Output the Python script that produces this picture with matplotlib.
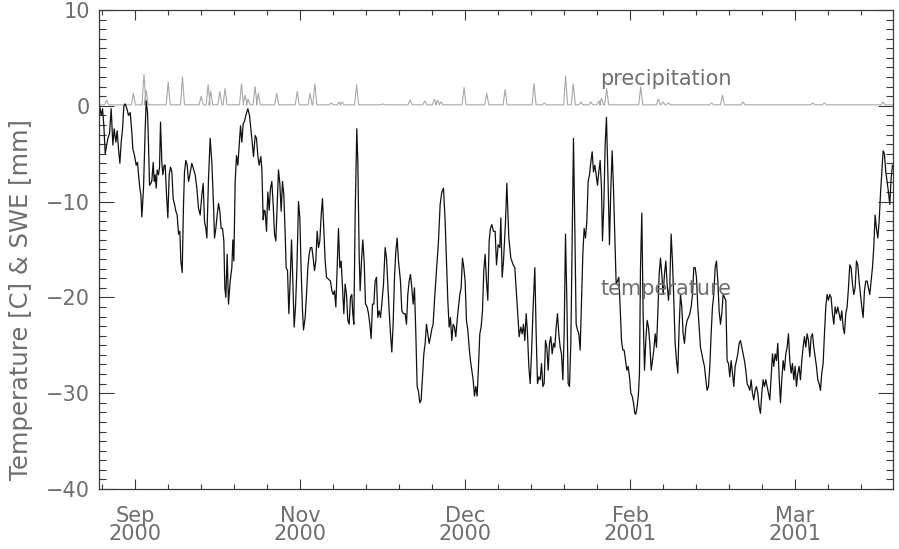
import matplotlib
matplotlib.use("Agg")
import matplotlib.pyplot as plt
from matplotlib.ticker import FixedLocator, MultipleLocator

# days since start of record (~4 Sep 2000) and air temperature [C]
temp_day = [
    0.27, 0.73, 1.09, 1.45, 1.82, 2.55, 3.0, 3.45, 3.91, 4.27, 4.73, 5.09, 5.45, 5.82, 6.18, 6.55,
    6.91, 7.27, 7.73, 8.18, 8.64, 9.09, 9.36, 9.82, 10.27, 10.64, 10.91, 11.27, 11.55, 11.82, 12.27,
    12.73, 13.0, 13.36, 13.64, 13.91, 14.27, 14.55, 14.91, 15.18, 15.45, 15.73, 16.0, 16.36, 16.64,
    16.91, 17.27, 17.55, 17.91, 18.18, 18.55, 18.91, 19.27, 19.64, 20.0, 20.36, 20.73, 21.09, 21.45,
    21.82, 22.18, 22.45, 22.82, 23.18, 23.45, 23.82, 24.18, 24.55, 24.91, 25.45, 25.91, 26.36, 26.82,
    27.27, 27.73, 28.18, 28.55, 28.91, 29.27, 29.55, 30.0, 30.45, 30.91, 31.36, 31.64, 32.0, 32.36,
    32.73, 33.09, 33.45, 33.82, 34.18, 34.45, 34.73, 35.09, 35.45, 35.91, 36.36, 36.64, 36.91, 37.27,
    37.64, 38.0, 38.36, 38.73, 39.09, 39.45, 39.82, 40.18, 40.73, 41.18, 41.55, 41.91, 42.27, 42.73,
    43.09, 43.45, 43.82, 44.27, 44.55, 44.91, 45.18, 45.45, 45.82, 46.18, 46.55, 46.91, 47.27, 47.64,
    48.0, 48.36, 48.73, 49.09, 49.45, 49.82, 50.18, 50.55, 50.91, 51.18, 51.55, 51.91, 52.27, 52.64,
    53.0, 53.36, 53.73, 54.09, 54.55, 54.91, 55.27, 55.64, 55.91, 56.36, 56.73, 57.09, 57.45, 57.82,
    58.18, 58.55, 58.91, 59.27, 59.64, 60.0, 60.36, 60.73, 61.09, 61.45, 61.82, 62.18, 62.73, 63.27,
    63.64, 64.0, 64.36, 64.73, 65.09, 65.45, 65.82, 66.18, 66.55, 66.91, 67.27, 67.64, 68.0, 68.36,
    68.73, 69.09, 69.36, 69.64, 70.0, 70.45, 70.73, 71.09, 71.36, 71.73, 72.09, 72.45, 72.82, 73.27,
    73.64, 74.0, 74.36, 74.73, 75.09, 75.45, 75.82, 76.18, 76.55, 76.91, 77.27, 77.73, 78.18, 78.55,
    78.91, 79.27, 79.64, 80.0, 80.36, 80.73, 81.09, 81.45, 81.82, 82.36, 82.73, 83.18, 83.64, 84.0,
    84.36, 84.73, 85.09, 85.45, 85.82, 86.18, 86.55, 86.91, 87.27, 87.64, 88.0, 88.36, 88.73, 89.09,
    89.45, 89.82, 90.18, 90.55, 90.91, 91.27, 91.64, 92.0, 92.36, 92.73, 93.18, 93.64, 94.09, 94.55,
    94.91, 95.27, 95.64, 96.0, 96.36, 96.73, 97.09, 97.45, 97.82, 98.18, 98.55, 98.91, 99.27, 99.64,
    100.0, 100.36, 100.73, 101.09, 101.45, 101.82, 102.18, 102.55, 102.91, 103.27, 103.64, 104.0,
    104.36, 104.73, 105.09, 105.45, 105.82, 106.18, 106.55, 106.91, 107.27, 107.73, 108.18,
    108.55, 109.0, 109.46, 109.74, 110.1, 110.46, 111.01, 111.37, 111.92, 112.46, 113.1, 113.55,
    114.01, 114.46, 114.74, 115.19, 115.55, 115.92, 116.28, 116.65, 117.01, 117.37, 117.74, 118.1,
    118.55, 119.01, 119.37, 119.74, 120.1, 120.46, 120.83, 121.19, 121.55, 121.92, 122.28, 122.65,
    123.01, 123.37, 123.74, 124.1, 124.46, 124.83, 125.19, 125.55, 125.92, 126.28, 126.65, 127.01,
    127.37, 127.74, 128.1, 128.46, 128.83, 129.19, 129.55, 129.92, 130.28, 130.65, 131.01, 131.37,
    131.74, 132.1, 132.46, 132.83, 133.19, 133.55, 133.92, 134.28, 134.65, 135.01, 135.37, 135.74,
    136.1, 136.46, 136.83, 137.19, 137.46, 137.83, 138.19, 138.55, 139.01, 139.37, 139.74, 140.1,
    140.46, 140.83, 141.19, 141.55, 141.92, 142.28, 142.65, 143.01, 143.37, 143.74, 144.1, 144.46,
    144.83, 145.19, 145.55, 145.92, 146.28, 146.55, 146.92, 147.28, 147.55, 147.83, 148.19, 148.55,
    148.92, 149.28, 149.65, 150.01, 150.37, 150.74, 151.1, 151.46, 151.83, 152.19, 152.55, 152.92,
    153.28, 153.65, 154.01, 154.37, 154.74, 155.1, 155.46, 155.83, 156.19, 156.55, 156.92, 157.28,
    157.65, 158.01, 158.37, 158.74, 159.1, 159.46, 159.83, 160.19, 160.55, 160.92, 161.28, 161.65,
    162.01, 162.37, 162.74, 163.1, 163.46, 163.83, 164.19, 164.55, 164.92, 165.28, 165.65, 166.01,
    166.37, 166.74, 167.1, 167.46, 167.83, 168.19, 168.55, 168.92, 169.28, 169.65, 170.01, 170.37,
    170.74, 171.1, 171.46, 171.83, 172.19, 172.55, 172.92, 173.28, 173.65, 174.01, 174.37, 174.74,
    175.1, 175.46, 175.83, 176.19, 176.55, 176.92, 177.28, 177.65, 178.01, 178.37, 178.74, 179.1,
    179.46, 179.83, 180.19, 180.55, 180.92, 181.28, 181.65, 182.01, 182.37, 182.74, 183.1, 183.46,
    183.83, 184.19, 184.55, 184.92, 185.28, 185.65, 186.01, 186.37, 186.74, 187.1, 187.46, 187.83,
    188.19, 188.55, 188.92, 189.28, 189.65, 190.01, 190.37, 190.74, 191.1, 191.46, 191.83, 192.19,
    192.55, 192.92, 193.28, 193.65, 194.01, 194.37, 194.74, 195.1, 195.46, 195.83, 196.19, 196.55,
    196.92, 197.28, 197.65, 198.01, 198.37, 198.74, 199.1, 199.46, 199.83, 200.19, 200.56, 200.92,
    201.28, 201.65, 202.01, 202.37, 202.74, 203.1, 203.46, 203.83, 204.19, 204.56, 204.92, 205.28,
    205.65, 206.01, 206.37, 206.74, 207.1, 207.46, 207.83, 208.19, 208.56, 208.92, 209.28, 209.65,
    210.01, 210.37, 210.74, 211.1, 211.46, 211.83, 212.19, 212.56, 212.92, 213.28, 213.65, 214.01,
    214.37, 214.74, 215.1, 215.46, 215.83, 216.19, 216.56,
]
temp_c = [
    0.0, -1.0, -0.3, -2.1, -5.0, -3.4, -2.9, -0.3, -4.1, -2.4, -3.8, -2.6, -4.5, -6.0, -3.8, -2.4,
    0.0, 0.2, -0.3, -1.0, -0.7, -2.8, -4.5, -5.2, -6.2, -5.9, -7.2, -8.6, -9.3, -11.6, -8.6,
    -2.4, 0.5, -0.7, -4.1, -8.3, -8.1, -7.8, -5.9, -7.9, -7.2, -8.6, -6.7, -7.2, -6.4,
    -1.7, -5.9, -7.2, -6.2, -6.2, -9.3, -11.7, -7.2, -6.4, -6.9, -9.7, -10.3, -11.0, -11.4,
    -13.4, -13.1, -16.2, -17.4, -10.3, -6.9, -5.7, -6.2, -7.9, -7.2, -6.0, -6.6, -7.2, -8.6,
    -10.7, -11.4, -9.3, -8.1, -12.1, -12.8, -13.8, -7.6, -3.4, -5.9, -10.3, -13.8, -12.8, -11.4,
    -10.2, -11.0, -12.8, -12.8, -14.1, -19.0, -20.0, -15.5, -20.7, -18.3, -16.9, -14.0, -16.2, -7.9,
    -5.2, -6.2, -4.1, -2.1, -3.8, -1.9, -1.6, -1.0, -0.3, -1.0, -2.4, -3.8, -5.3, -3.1,
    -3.4, -5.2, -6.2, -5.3, -6.6, -11.9, -10.9, -11.0, -13.1, -9.0, -10.9, -8.6, -7.9, -10.3,
    -13.4, -14.1, -10.3, -6.7, -8.1, -11.0, -7.9, -9.3, -13.4, -16.9, -17.2, -21.7, -18.3, -14.0,
    -18.3, -23.1, -21.0, -17.2, -10.0, -11.7, -17.2, -21.4, -23.4, -22.1, -19.7, -16.9, -15.5, -14.8,
    -14.8, -15.9, -17.2, -16.2, -13.1, -14.8, -14.1, -11.4, -9.7, -12.8, -16.2, -17.9, -18.1, -18.3,
    -19.3, -19.7, -19.3, -21.0, -16.9, -12.8, -16.9, -16.2, -19.0, -21.7, -18.6, -19.7, -22.4, -22.8,
    -20.0, -19.7, -21.7, -22.8, -11.4, -2.4, -5.9, -15.5, -19.3, -16.2, -14.0, -16.2, -20.7, -21.0,
    -21.7, -22.8, -24.3, -20.7, -20.7, -18.3, -17.9, -22.1, -21.4, -22.1, -20.7, -18.6, -14.8, -15.9,
    -18.6, -21.4, -23.8, -25.7, -22.8, -17.9, -15.2, -13.8, -16.2, -18.3, -21.4, -21.7, -21.7, -22.8,
    -19.7, -18.3, -17.6, -19.0, -20.7, -19.0, -23.8, -29.3, -29.8, -31.0, -30.7, -28.3, -25.9, -24.8,
    -22.8, -23.8, -24.8, -24.1, -23.3, -22.8, -20.3, -18.3, -16.2, -14.1, -10.3, -9.0, -8.6, -12.1,
    -16.2, -20.3, -23.1, -22.1, -24.5, -22.8, -23.1, -24.1, -22.4, -21.0, -19.7, -19.0, -15.9, -16.9,
    -18.3, -22.4, -23.4, -25.2, -26.6, -27.6, -28.6, -30.3, -29.3, -30.3, -27.2, -23.8,
    -23.1, -21.4, -17.2, -15.5, -18.3, -20.3, -14.1, -12.8, -12.4, -13.1, -13.1,
    -16.6, -14.5, -14.8, -11.7, -17.9, -16.2, -12.1, -8.1, -13.8, -15.9, -16.6, -16.9,
    -19.7, -22.4, -24.1, -23.1, -23.8, -22.8, -24.5, -21.7, -23.8, -27.2, -29.0, -25.9,
    -21.0, -16.9, -23.8, -29.0, -28.3, -28.6, -26.9, -29.3, -29.0, -24.5, -25.2, -27.6,
    -24.8, -24.1, -25.9, -24.8, -25.2, -23.1, -21.7, -23.8, -25.2, -25.9, -28.6, -23.8,
    -13.4, -20.3, -29.0, -29.3, -24.8, -14.5, -3.4, -12.8, -22.8, -23.4, -23.8, -25.5,
    -20.3, -15.5, -12.8, -13.8, -12.1, -7.9, -7.2, -5.9, -4.8, -6.9, -6.2, -7.2,
    -8.3, -6.9, -5.7, -8.6, -14.1, -10.3, -4.1, -1.2, -8.3, -14.5, -8.6, -4.7,
    -8.6, -13.8, -18.6, -18.3, -17.9, -21.0, -24.5, -25.5, -25.5, -26.6, -27.6, -27.2,
    -28.3, -30.0, -30.3, -31.0, -32.1, -32.2, -31.4, -30.0, -27.9, -16.9, -11.2, -21.7,
    -27.6, -24.5, -22.4, -23.1, -24.8, -27.6, -26.6, -25.5, -23.8, -25.2, -21.7, -17.6,
    -15.9, -17.6, -19.7, -17.6, -16.2, -18.6, -20.3, -18.6, -13.4, -16.2, -20.3, -24.8,
    -26.6, -27.9, -23.1, -19.7, -21.0, -23.8, -24.8, -23.1, -22.4, -22.1, -21.7, -21.0,
    -19.7, -16.9, -16.9, -17.9, -21.0, -23.1, -25.2, -25.9, -26.6, -27.2, -28.6, -29.7,
    -29.3, -27.2, -23.8, -21.0, -19.7, -16.9, -16.2, -18.3, -21.4, -22.8, -21.7, -19.7,
    -20.0, -20.3, -26.6, -26.9, -28.3, -26.6, -27.9, -29.3, -27.2, -26.6, -25.9, -24.8,
    -24.5, -25.2, -25.9, -26.6, -27.6, -29.0, -29.3, -29.7, -28.6, -30.0, -30.7, -29.7,
    -29.3, -30.0, -31.4, -32.1, -30.0, -28.6, -29.3, -28.6, -29.3, -30.0, -30.7, -28.3,
    -25.9, -27.2, -25.9, -26.6, -24.8, -28.3, -31.0, -28.6, -26.6, -27.6, -25.9, -25.2,
    -23.8, -26.6, -27.9, -26.9, -28.6, -27.2, -29.3, -27.9, -27.2, -28.6, -26.6, -25.2,
    -24.1, -25.2, -23.8, -24.5, -26.2, -24.1, -23.8, -25.2, -26.2, -27.2, -28.6, -29.0,
    -29.7, -27.9, -26.9, -23.8, -21.0, -19.7, -20.3, -19.7, -20.0, -21.7, -22.8, -21.0,
    -21.7, -21.0, -21.7, -22.4, -21.4, -23.1, -23.8, -21.7, -21.0, -19.0, -16.6, -16.9,
    -18.6, -19.7, -19.0, -16.2, -16.6, -18.3, -19.7, -21.0, -22.1, -19.3, -18.3, -18.3,
    -19.0, -19.7, -18.3, -16.9, -14.8, -11.4, -12.8, -13.8, -12.1, -9.3, -6.9, -4.7,
    -5.0, -6.9, -7.9, -9.0, -10.3, -7.6, -6.2,
]

# precipitation events: day and amount [mm]
precip_day = [2.2, 9.5, 12.4, 13.0, 19.0, 22.9, 28.0, 29.9, 30.6, 33.1, 34.5, 39.0, 40.0, 40.8,
              42.7, 43.6, 48.6, 54.2, 57.7, 59.0, 63.5, 65.6, 66.4, 70.4, 77.6, 85.0, 89.0,
              91.6, 92.5, 93.4, 99.7, 105.9, 110.9, 118.8, 121.6, 127.4, 129.5, 131.6, 134.3,
              136.5, 137.2, 138.6, 147.9, 152.7, 154.0, 155.4, 167.2, 170.2, 175.8, 194.8,
              198.0, 214.0]
precip_mm = [0.5, 1.2, 3.2, 1.5, 2.4, 2.9, 0.9, 2.1, 1.4, 1.4, 1.7, 2.2, 1.0, 0.6,
             1.9, 1.2, 1.2, 1.4, 1.2, 2.2, 0.2, 0.3, 0.3, 2.1, 0.1, 0.5, 0.4,
             0.6, 0.5, 0.3, 1.8, 1.2, 1.6, 2.2, 0.2, 3.0, 2.2, 0.3, 0.3,
             0.4, 0.7, 1.7, 1.9, 0.6, 0.3, 0.2, 0.2, 1.0, 0.3, 0.2,
             0.2, 0.3]
precip_base = 0.1

tick_days = [10, 55, 100, 145, 190]
tick_labels = ["Sep\n2000", "Nov\n2000", "Dec\n2000", "Feb\n2001", "Mar\n2001"]

TXT = "#6e6e6e"
AX = "#3a3a3a"

plt.rcParams["font.family"] = ["DejaVu Sans"]

fig = plt.figure(figsize=(8.99, 5.49), dpi=100)
ax = fig.add_axes([0.1096, 0.1093, 0.8837, 0.8725])

# precipitation as narrow spikes on a flat baseline
px, py = [0.0], [precip_base]
for d, p in zip(precip_day, precip_mm):
    px += [d - 0.55, d, d + 0.55]
    py += [precip_base, precip_base + p, precip_base]
px.append(216.7)
py.append(precip_base)
ax.plot(px, py, color="#a8a8a8", lw=0.8)

ax.plot(temp_day, temp_c, color="#111111", lw=0.9)

ax.set_xlim(0, 216.7)
ax.set_ylim(-40, 10)

ax.xaxis.set_major_locator(FixedLocator(tick_days))
ax.xaxis.set_minor_locator(FixedLocator([1 + 9 * i for i in range(24)]))
ax.set_xticklabels(tick_labels, linespacing=0.9)
ax.yaxis.set_major_locator(MultipleLocator(10))
ax.yaxis.set_minor_locator(MultipleLocator(1))

ax.tick_params(axis="both", which="both", direction="in", top=True, right=True,
               colors=AX, labelcolor=TXT, labelsize=15, width=0.8)
ax.tick_params(axis="y", which="major", length=11, pad=6)
ax.tick_params(axis="y", which="minor", length=5)
ax.tick_params(axis="x", which="major", length=7.5, pad=12)
ax.tick_params(axis="x", which="minor", length=3.6)
for s in ax.spines.values():
    s.set_color(AX)
    s.set_linewidth(0.9)

ax.set_ylabel("Temperature [C] & SWE [mm]", fontsize=17.5, color=TXT)
ax.yaxis.set_label_coords(-0.083, 0.395)

ax.text(136.8, 2.8, "precipitation", fontsize=15, color=TXT, va="center", ha="left")
ax.text(136.8, -19.1, "temperature", fontsize=15, color=TXT, va="center", ha="left")

fig.savefig("out.png", dpi=100)
